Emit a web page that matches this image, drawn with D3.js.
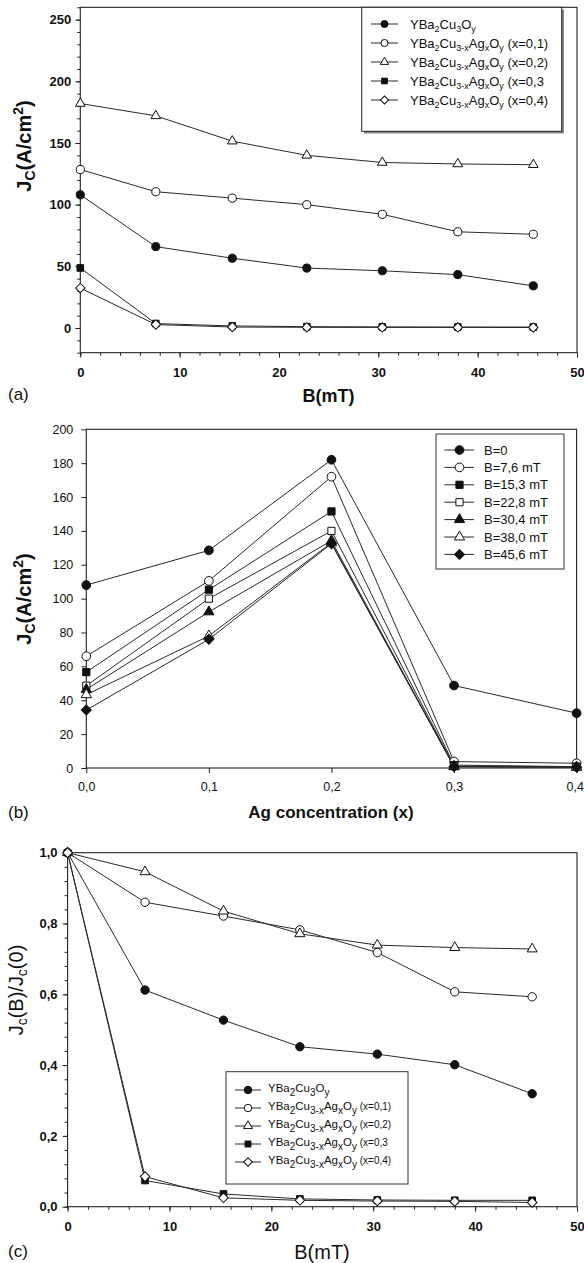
<!DOCTYPE html>
<html><head><meta charset="utf-8">
<script src="https://cdn.jsdelivr.net/npm/d3@7"></script>
<style>
body{margin:0;background:#fff}
svg{display:block}
text{font-family:"Liberation Sans",Arial,Helvetica,sans-serif;white-space:pre}
</style>
</head><body>
<svg id="chart" width="584" height="1263"></svg>
<script>
// ---------- DATA ----------
const fieldB = [0, 7.6, 15.3, 22.8, 30.4, 38.0, 45.6];          // B (mT)
const agConc = [0, 0.1, 0.2, 0.3, 0.4];                          // Ag concentration x
// Jc (A/cm2) vs B for each composition (panel a)
const jcX00 = [108, 66, 56.6, 48.6, 46.4, 43.3, 34.2];
const jcX01 = [128.5, 110.5, 105.3, 100, 92.2, 78, 76];
const jcX02 = [182, 172, 151.5, 140, 134.2, 133, 132.4];
const jcX03 = [48.7, 3.6, 1.7, 1.1, 0.9, 0.8, 0.8];
const jcX04 = [32.4, 2.8, 0.8, 0.6, 0.5, 0.5, 0.4];
// Jc (A/cm2) vs x for each field (panel b)
const jcB00 = [108, 128.5, 182, 48.7, 32.4];
const jcB76 = [66, 110.5, 172, 3.8, 2.8];
const jcB153 = [56.6, 105.3, 151.5, 1.7, 0.8];
const jcB228 = [48.6, 100, 140, 1.1, 0.6];
const jcB304 = [46.4, 92.2, 134.2, 0.9, 0.5];
const jcB380 = [43.3, 78, 133, 0.8, 0.5];
const jcB456 = [34.2, 76, 132.4, 0.8, 0.4];
// Jc(B)/Jc(0) vs B (panel c)
const nrmX00 = [1, 0.612, 0.527, 0.452, 0.431, 0.401, 0.319];
const nrmX01 = [1, 0.86, 0.821, 0.782, 0.718, 0.607, 0.593];
const nrmX02 = [1, 0.946, 0.835, 0.771, 0.739, 0.732, 0.728];
const nrmX03 = [1, 0.074, 0.036, 0.022, 0.019, 0.018, 0.018];
const nrmX04 = [1, 0.085, 0.025, 0.018, 0.016, 0.015, 0.012];
// tick values / labels
const ticksAx = [0, 10, 20, 30, 40, 50];
const ticksAy = [0, 50, 100, 150, 200, 250];
const ticksBx = [0, 0.1, 0.2, 0.3, 0.4];
const ticksBxLabels = ["0,0", "0,1", "0,2", "0,3", "0,4"];
const ticksBy = [0, 20, 40, 60, 80, 100, 120, 140, 160, 180, 200];
const ticksCx = [0, 10, 20, 30, 40, 50];
const ticksCy = [0, 0.2, 0.4, 0.6, 0.8, 1.0];
const ticksCyLabels = ["0,0", "0,2", "0,4", "0,6", "0,8", "1,0"];
const legendCompX = ["", "(x=0,1)", "(x=0,2)", "(x=0,3", "(x=0,4)"];
const legendFieldB = ["B=0", "B=7,6 mT", "B=15,3 mT", "B=22,8 mT", "B=30,4 mT", "B=38,0 mT", "B=45,6 mT"];

// ---------- HELPERS ----------
const svg = d3.select("#chart");
svg.append("rect").attr("width", 584).attr("height", 1263).attr("fill", "#fff");
const LINE = "#2a2a2a";

function symbolPath(kind, size) {
  let t;
  if (kind === "circle") t = d3.symbolCircle;
  else if (kind === "square") t = d3.symbolSquare;
  else if (kind === "triangle") t = d3.symbolTriangle;
  else t = d3.symbolSquare; // diamond = rotated square
  return d3.symbol().type(t).size(size)();
}
function drawMarker(g, kind, filled, x, y, size) {
  g.append("path")
    .attr("d", symbolPath(kind, size))
    .attr("transform", `translate(${x},${y})` + (kind === "diamond" ? " rotate(45)" : ""))
    .attr("fill", filled ? "#111" : "#fff")
    .attr("stroke", "#111").attr("stroke-width", 1);
}
function rich(textSel, parts, base, small, shiftSub, shiftSup) {
  let cur = 0;
  parts.forEach(p => {
    const target = p.s === "sub" ? shiftSub : p.s === "sup" ? -shiftSup : 0;
    textSel.append("tspan")
      .attr("dy", target - cur)
      .attr("font-size", p.fs || (p.s ? small : base))
      .text(p.t);
    cur = target;
  });
}
function compParts(i, extraFs) {
  if (i === 0) return [{t: "YBa"}, {t: "2", s: "sub"}, {t: "Cu"}, {t: "3", s: "sub"}, {t: "O"}, {t: "y", s: "sub"}];
  return [{t: "YBa"}, {t: "2", s: "sub"}, {t: "Cu"}, {t: "3-x", s: "sub"}, {t: "Ag"}, {t: "x", s: "sub"}, {t: "O"}, {t: "y", s: "sub"},
          {t: " " + legendCompX[i], fs: extraFs}];
}
function styleAxis(g, fontSize, bold) {
  g.select(".domain").remove();
  g.selectAll(".tick line").attr("stroke", "#222").attr("stroke-width", 1);
  g.selectAll(".tick text").attr("fill", "#111").attr("font-size", fontSize)
    .attr("font-weight", bold ? "bold" : "normal")
    .attr("font-family", '"Liberation Sans",Arial,sans-serif');
}
function frame(x0, x1, y0, y1) {
  svg.append("rect").attr("x", x0).attr("y", y0).attr("width", x1 - x0).attr("height", y1 - y0)
    .attr("fill", "none").attr("stroke", "#222").attr("stroke-width", 1.1);
}

// ================= PANEL A =================
{
  const x = d3.scaleLinear().domain([0, 50]).range([80.3, 577]);
  const y = d3.scaleLinear().domain([-20, 260]).range([352.7, 7.3]);
  const gxMinor = svg.append("g").attr("transform", `translate(0,${y(-20)})`)
    .call(d3.axisBottom(x).tickValues(d3.range(0, 51, 2)).tickSize(3).tickFormat(""));
  styleAxis(gxMinor, 12, true);
  const gx = svg.append("g").attr("transform", `translate(0,${y(-20)})`)
    .call(d3.axisBottom(x).tickValues(ticksAx).tickSize(5).tickPadding(10).tickFormat(d3.format("d")));
  styleAxis(gx, 13, true);
  const gyMinor = svg.append("g").attr("transform", `translate(${x(0)},0)`)
    .call(d3.axisLeft(y).tickValues(d3.range(-20, 261, 10)).tickSize(3).tickFormat(""));
  styleAxis(gyMinor, 12, true);
  const gy = svg.append("g").attr("transform", `translate(${x(0)},0)`)
    .call(d3.axisLeft(y).tickValues(ticksAy).tickSize(5).tickPadding(4).tickFormat(d3.format("d")));
  styleAxis(gy, 13, true);
  frame(x(0), x(50), y(260), y(-20));

  const series = [
    {v: jcX00, k: "circle", f: true},
    {v: jcX01, k: "circle", f: false},
    {v: jcX02, k: "triangle", f: false},
    {v: jcX03, k: "square", f: true},
    {v: jcX04, k: "diamond", f: false}
  ];
  const line = d3.line().x((d, i) => x(fieldB[i])).y(d => y(d));
  const gl = svg.append("g");
  series.forEach(s => gl.append("path").attr("d", line(s.v)).attr("fill", "none").attr("stroke", LINE).attr("stroke-width", 1));
  const sizes = {circle: 52, triangle: 40, square: 44, diamond: 44};
  series.forEach(s => s.v.forEach((d, i) => drawMarker(gl, s.k, s.f, x(fieldB[i]), y(d), sizes[s.k])));

  // legend
  const lg = svg.append("g");
  lg.append("rect").attr("x", 364).attr("y", 9.5).attr("width", 200).attr("height", 124).attr("fill", "#888");
  lg.append("rect").attr("x", 361.7).attr("y", 7.3).attr("width", 200).attr("height", 124)
    .attr("fill", "#fff").attr("stroke", "#222").attr("stroke-width", 1);
  series.forEach((s, i) => {
    const cy = 24 + i * 19;
    lg.append("line").attr("x1", 371).attr("x2", 398).attr("y1", cy).attr("y2", cy).attr("stroke", LINE);
    drawMarker(lg, s.k, s.f, 384.5, cy, sizes[s.k] * 0.75);
    const t = lg.append("text").attr("x", 410).attr("y", cy + 4.5).attr("fill", "#111");
    rich(t, compParts(i, 13), 13, 9, 3, 5);
  });

  // titles
  const yt = svg.append("text").attr("transform", "translate(31,146) rotate(-90)")
    .attr("text-anchor", "middle").attr("font-weight", "bold").attr("fill", "#111");
  rich(yt, [{t: "J"}, {t: "C", s: "sub"}, {t: "(A/cm"}, {t: "2", s: "sup"}, {t: ")"}], 20, 14, 4, 8);
  svg.append("text").attr("x", 328.5).attr("y", 402).attr("text-anchor", "middle")
    .attr("font-size", 18).attr("font-weight", "bold").attr("fill", "#111").text("B(mT)");
  svg.append("text").attr("x", 8).attr("y", 400).attr("font-size", 17).attr("fill", "#111").text("(a)");
}

// ================= PANEL B =================
{
  const x = d3.scaleLinear().domain([0, 0.4]).range([86.3, 576.6]);
  const y = d3.scaleLinear().domain([0, 200]).range([768, 429.3]);
  const gx = svg.append("g").attr("transform", `translate(0,${y(0)})`)
    .call(d3.axisBottom(x).tickValues(ticksBx).tickSize(5).tickPadding(9).tickFormat((d, i) => ticksBxLabels[i]));
  styleAxis(gx, 12.5, false);
  gx.selectAll(".tick text").filter(d => d === 0.4).attr("text-anchor", "end").attr("dx", "0.55em");
  const gy = svg.append("g").attr("transform", `translate(${x(0)},0)`)
    .call(d3.axisLeft(y).tickValues(ticksBy).tickSize(5).tickPadding(8).tickFormat(d3.format("d")));
  styleAxis(gy, 12.5, false);
  frame(x(0), x(0.4), y(200), y(0));

  const series = [
    {v: jcB00, k: "circle", f: true},
    {v: jcB76, k: "circle", f: false},
    {v: jcB153, k: "square", f: true},
    {v: jcB228, k: "square", f: false},
    {v: jcB304, k: "triangle", f: true},
    {v: jcB380, k: "triangle", f: false},
    {v: jcB456, k: "diamond", f: true}
  ];
  const sizes = {circle: 60, triangle: 46, square: 52, diamond: 50};
  const line = d3.line().x((d, i) => x(agConc[i])).y(d => y(d));
  const gl = svg.append("g");
  series.forEach(s => gl.append("path").attr("d", line(s.v)).attr("fill", "none").attr("stroke", LINE).attr("stroke-width", 1));
  series.forEach(s => s.v.forEach((d, i) => drawMarker(gl, s.k, s.f, x(agConc[i]), y(d), sizes[s.k])));

  const lg = svg.append("g");
  lg.append("rect").attr("x", 436).attr("y", 434).attr("width", 128).attr("height", 135)
    .attr("fill", "#fff").attr("stroke", "#333").attr("stroke-width", 1);
  series.forEach((s, i) => {
    const cy = 450 + i * 17.4;
    lg.append("line").attr("x1", 444.3).attr("x2", 474).attr("y1", cy).attr("y2", cy).attr("stroke", LINE);
    drawMarker(lg, s.k, s.f, 459.5, cy, sizes[s.k]);
    lg.append("text").attr("x", 484).attr("y", cy + 4.6).attr("font-size", 13).attr("fill", "#111").text(legendFieldB[i]);
  });

  const yt = svg.append("text").attr("transform", "translate(31,599) rotate(-90)")
    .attr("text-anchor", "middle").attr("font-weight", "bold").attr("fill", "#111");
  rich(yt, [{t: "J"}, {t: "C", s: "sub"}, {t: "(A/cm"}, {t: "2", s: "sup"}, {t: ")"}], 20, 14, 4, 8);
  svg.append("text").attr("x", 331).attr("y", 818).attr("text-anchor", "middle")
    .attr("font-size", 17).attr("font-weight", "bold").attr("fill", "#111").text("Ag concentration (x)");
  svg.append("text").attr("x", 8).attr("y", 818).attr("font-size", 17).attr("fill", "#111").text("(b)");
}

// ================= PANEL C =================
{
  const x = d3.scaleLinear().domain([0, 50]).range([67.6, 577]);
  const y = d3.scaleLinear().domain([0, 1]).range([1206.7, 852.7]);
  const gxMinor = svg.append("g").attr("transform", `translate(0,${y(0)})`)
    .call(d3.axisBottom(x).tickValues(d3.range(0, 51, 2)).tickSize(3).tickFormat(""));
  styleAxis(gxMinor, 12, true);
  const gx = svg.append("g").attr("transform", `translate(0,${y(0)})`)
    .call(d3.axisBottom(x).tickValues(ticksCx).tickSize(5).tickPadding(10).tickFormat(d3.format("d")));
  styleAxis(gx, 13, true);
  const gyMinor = svg.append("g").attr("transform", `translate(${x(0)},0)`)
    .call(d3.axisLeft(y).tickValues(d3.range(0, 1.001, 0.04)).tickSize(3).tickFormat(""));
  styleAxis(gyMinor, 12, true);
  const gy = svg.append("g").attr("transform", `translate(${x(0)},0)`)
    .call(d3.axisLeft(y).tickValues(ticksCy).tickSize(5).tickPadding(5).tickFormat((d, i) => ticksCyLabels[i]));
  styleAxis(gy, 13, true);
  frame(x(0), x(50), y(1), y(0));

  const series = [
    {v: nrmX00, k: "circle", f: true},
    {v: nrmX01, k: "circle", f: false},
    {v: nrmX02, k: "triangle", f: false},
    {v: nrmX03, k: "square", f: true},
    {v: nrmX04, k: "diamond", f: false}
  ];
  const sizes = {circle: 55, triangle: 44, square: 44, diamond: 46};
  const line = d3.line().x((d, i) => x(fieldB[i])).y(d => y(d));
  const gl = svg.append("g");
  series.forEach(s => gl.append("path").attr("d", line(s.v)).attr("fill", "none").attr("stroke", LINE).attr("stroke-width", 1));
  series.forEach(s => s.v.forEach((d, i) => drawMarker(gl, s.k, s.f, x(fieldB[i]), y(d), sizes[s.k])));

  const lg = svg.append("g");
  lg.append("rect").attr("x", 226).attr("y", 1071.7).attr("width", 182).attr("height", 112.3)
    .attr("fill", "#fff").attr("stroke", "#333").attr("stroke-width", 1);
  series.forEach((s, i) => {
    const cy = 1090 + i * 18;
    lg.append("line").attr("x1", 235).attr("x2", 261).attr("y1", cy).attr("y2", cy).attr("stroke", LINE);
    drawMarker(lg, s.k, s.f, 248, cy, sizes[s.k] * 0.8);
    const t = lg.append("text").attr("x", 268).attr("y", cy + 2).attr("fill", "#111");
    rich(t, compParts(i, 10), 11.5, 10, 4, 4);
  });

  const yt = svg.append("text").attr("transform", "translate(23,990) rotate(-90)")
    .attr("text-anchor", "middle").attr("fill", "#111");
  rich(yt, [{t: "J"}, {t: "c", s: "sub"}, {t: "(B)/J"}, {t: "c", s: "sub"}, {t: "(0)"}], 20, 14, 4, 6);
  svg.append("text").attr("x", 322).attr("y", 1259).attr("text-anchor", "middle")
    .attr("font-size", 20).attr("fill", "#111").text("B(mT)");
  svg.append("text").attr("x", 8).attr("y", 1257).attr("font-size", 17).attr("fill", "#111").text("(c)");
}
</script>
</body></html>
